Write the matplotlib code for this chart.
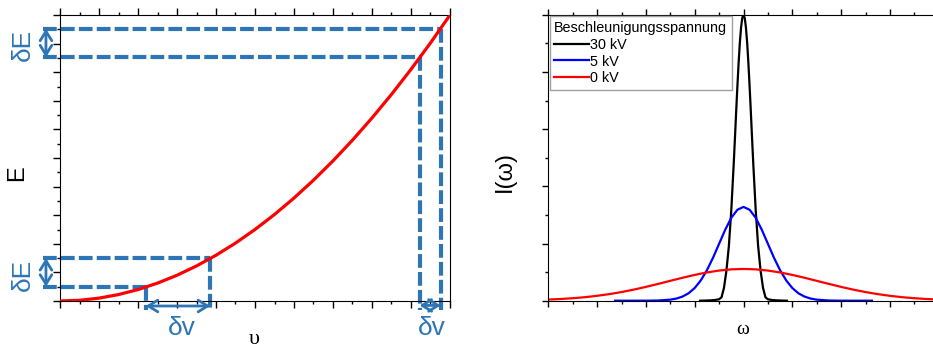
import matplotlib
matplotlib.use("Agg")
import matplotlib.pyplot as plt
from matplotlib.ticker import MultipleLocator

plt.rcParams['font.family'] = ['Liberation Sans', 'DejaVu Sans']

# left panel: E(v) parabola
v = [0.0, 0.05, 0.1, 0.15, 0.2, 0.25, 0.3, 0.35, 0.4, 0.45, 0.5,
     0.55, 0.6, 0.65, 0.7, 0.75, 0.8, 0.85, 0.9, 0.95, 1.0]
E = [0.0, 0.0025, 0.01, 0.0225, 0.04, 0.0625, 0.09, 0.1225, 0.16, 0.2025, 0.25,
     0.3025, 0.36, 0.4225, 0.49, 0.5625, 0.64, 0.7225, 0.81, 0.9025, 1.0]

# the two delta intervals (low and high velocity)
dv_lo = [0.22, 0.385]
dE_lo = [0.05, 0.15]
dv_hi = [0.922, 0.976]
dE_hi = [0.852, 0.952]

# right panel: line profiles for different acceleration voltages
w_black = [-0.89, -0.7, -0.6, -0.5, -0.45, -0.4, -0.35, -0.3, -0.25, -0.2, -0.175, -0.15,
           -0.125, -0.1, -0.075, -0.05, -0.025, 0.0, 0.025, 0.05, 0.075, 0.1, 0.125,
           0.15, 0.175, 0.2, 0.25, 0.3, 0.35, 0.4, 0.45, 0.5, 0.6, 0.7, 0.89]
I_black = [0.0, 0.001, 0.002, 0.005, 0.012, 0.045, 0.105, 0.191, 0.317, 0.48, 0.57, 0.662,
           0.75, 0.832, 0.902, 0.955, 0.989, 1.0, 0.989, 0.955, 0.902, 0.832, 0.75,
           0.662, 0.57, 0.48, 0.317, 0.191, 0.105, 0.045, 0.012, 0.005, 0.002, 0.001, 0.0]

w_blue = [-2.63, -2.0, -1.75, -1.5, -1.375, -1.25, -1.125, -1.0, -0.875, -0.75, -0.625,
          -0.5, -0.375, -0.25, -0.125, 0.0, 0.125, 0.25, 0.375, 0.5, 0.625, 0.75,
          0.875, 1.0, 1.125, 1.25, 1.375, 1.5, 1.75, 2.0, 2.63]
I_blue = [0.0, 0.0001, 0.0007, 0.0036, 0.0075, 0.0144, 0.026, 0.0444, 0.071, 0.1065, 0.150,
          0.199, 0.248, 0.29, 0.318, 0.328, 0.318, 0.29, 0.248, 0.199, 0.150, 0.1065,
          0.071, 0.0444, 0.026, 0.0144, 0.0075, 0.0036, 0.0007, 0.0001, 0.0]

w_red = [-4.2, -4.0, -3.75, -3.5, -3.25, -3.0, -2.75, -2.5, -2.25, -2.0, -1.75, -1.5,
         -1.25, -1.0, -0.75, -0.5, -0.25, 0.0, 0.25, 0.5, 0.75, 1.0, 1.25, 1.5,
         1.75, 2.0, 2.25, 2.5, 2.75, 3.0, 3.25, 3.5, 3.75, 4.0, 4.2]
I_red = [0.0028, 0.004, 0.0059, 0.0087, 0.0123, 0.0171, 0.023, 0.0302, 0.0387, 0.0483, 0.0587, 0.0695,
         0.0802, 0.0902, 0.0988, 0.1054, 0.1096, 0.111, 0.1096, 0.1054, 0.0988, 0.0902, 0.0802, 0.0695,
         0.0587, 0.0483, 0.0387, 0.0302, 0.023, 0.0171, 0.0123, 0.0087, 0.0059, 0.004, 0.0028]

labels = ["30 kV", "5 kV", "0 kV"]
colors = ["black", "#0000ff", "#ff0000"]

blue = "#2e75b6"
arrow_kw = dict(arrowstyle="<->,head_length=0.45,head_width=0.28", color=blue, lw=2,
                shrinkA=0, shrinkB=0, mutation_scale=15)

fig = plt.figure(figsize=(9.33, 3.51), dpi=100)

# ---------------- left panel ----------------
ax1 = fig.add_axes([60 / 933, 50 / 351, 390 / 933, 286 / 351])
ax1.plot(v, E, color="red", lw=2.3, zorder=3)
ax1.set_xlim(0, 1)
ax1.set_ylim(0, 1)

x_left = -0.044
y_low = -0.031
dash_kw = dict(color=blue, lw=3.0, dashes=(3.3, 1.0), clip_on=False, zorder=2)
for dv, dE, arrow_y in [(dv_lo, dE_lo, -0.0175), (dv_hi, dE_hi, -0.0155)]:
    for vv, ee in zip(dv, dE):
        ax1.plot([x_left, vv], [ee, ee], **dash_kw)
        ax1.plot([vv, vv], [ee, y_low], **dash_kw)
    ax1.annotate("", xy=(dv[1], arrow_y), xytext=(dv[0], arrow_y),
                 arrowprops=arrow_kw, annotation_clip=False)
    ax1.annotate("", xy=(-0.036, dE[1]), xytext=(-0.036, dE[0]),
                 arrowprops=arrow_kw, annotation_clip=False)

fig.text(23 / 933, 1 - 45 / 351, "δE", color=blue, fontsize=19, rotation=90,
         ha="center", va="center")
fig.text(23 / 933, 1 - 275 / 351, "δE", color=blue, fontsize=19, rotation=90,
         ha="center", va="center")
fig.text(182 / 933, 1 - 328 / 351, "δv", color=blue, fontsize=19,
         ha="center", va="center")
fig.text(432 / 933, 1 - 328 / 351, "δv", color=blue, fontsize=19,
         ha="center", va="center")
fig.text(17 / 933, 1 - 173 / 351, "E", fontsize=17, rotation=90,
         ha="center", va="center")
fig.text(254 / 933, 1 - 340 / 351, "υ", fontsize=16, family="Liberation Serif",
         ha="center", va="center")

ax1.xaxis.set_major_locator(MultipleLocator(0.1))
ax1.xaxis.set_minor_locator(MultipleLocator(0.05))
ax1.yaxis.set_major_locator(MultipleLocator(0.1))
ax1.yaxis.set_minor_locator(MultipleLocator(0.05))
ax1.tick_params(which="both", direction="out", top=True, right=False,
                labelbottom=False, labelleft=False, width=1)
ax1.tick_params(which="major", length=4.8)
ax1.tick_params(which="minor", length=2.4)

# ---------------- right panel ----------------
ax2 = fig.add_axes([548.3 / 933, 50.3 / 351, 390.4 / 933, 286 / 351])
for w, I, lab, c in zip([w_black, w_blue, w_red], [I_black, I_blue, I_red], labels, colors):
    ax2.plot(w, I, color=c, lw=1.6, label=lab)
ax2.set_xlim(-4, 4)
ax2.set_ylim(0, 1)
ax2.xaxis.set_major_locator(MultipleLocator(1))
ax2.xaxis.set_minor_locator(MultipleLocator(0.5))
ax2.yaxis.set_major_locator(MultipleLocator(0.2))
ax2.yaxis.set_minor_locator(MultipleLocator(0.1))
ax2.tick_params(which="both", direction="out", top=True, right=False,
                labelbottom=False, labelleft=False, width=1)
ax2.tick_params(which="major", length=4.6)
ax2.tick_params(which="minor", length=2.4)

leg = ax2.legend(title="Beschleunigungsspannung", loc="upper left",
                 bbox_to_anchor=(0.004, 0.994), borderaxespad=0, fontsize=10.4,
                 title_fontsize=10.4, frameon=True, fancybox=False, framealpha=1,
                 edgecolor="#a0a0a0", handlelength=2.4, handletextpad=0.1,
                 labelspacing=0.2, borderpad=0.3, alignment="left")
leg.get_frame().set_linewidth(1.0)

fig.text(505 / 933, 1 - 172 / 351, "I(ω)", fontsize=17, rotation=90,
         ha="center", va="center")
fig.text(743 / 933, 1 - 330 / 351, "ω", fontsize=14, family="Liberation Serif",
         ha="center", va="center")

fig.savefig("out.png", dpi=100)
